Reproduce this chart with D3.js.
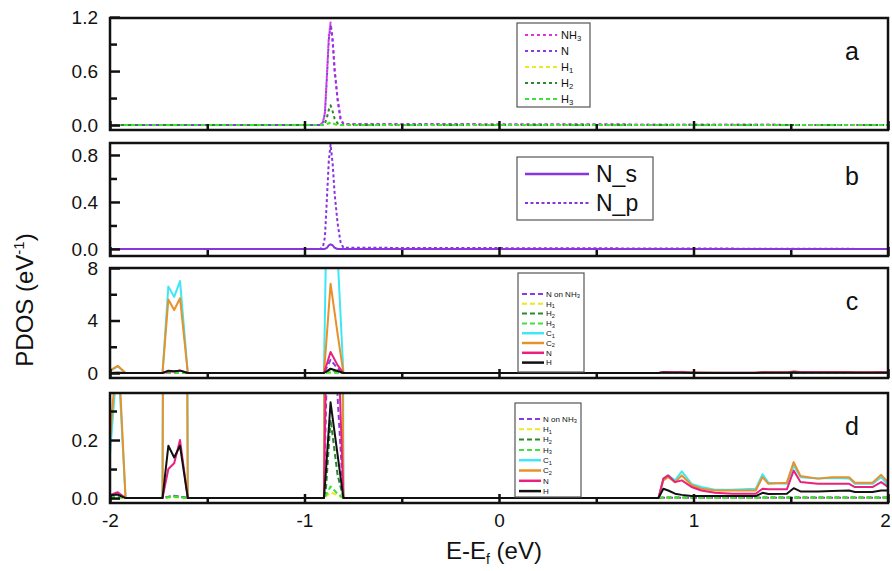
<!DOCTYPE html>
<html>
<head>
<meta charset="utf-8">
<script src="https://cdn.jsdelivr.net/npm/d3@7/dist/d3.min.js"></script>
<style>
body{margin:0;background:#fff;}
svg text{font-family:"Liberation Sans",Arial,sans-serif;fill:#111;}
</style>
</head>
<body>
<div id="pdos-chart"></div>
<script>
// energy grid (eV) for panels a and b
const energyAB = [-2, -0.92, -0.905, -0.895, -0.885, -0.875, -0.866, -0.855, -0.845, -0.83, -0.815, -0.80, 2];
// panel a
const aNH3 = [0, 0, 0.03, 0.14, 0.55, 0.98, 1.14, 0.95, 0.62, 0.30, 0.08, 0.01, 0];
const aN   = [0, 0, 0.03, 0.13, 0.52, 0.95, 1.12, 0.92, 0.60, 0.28, 0.07, 0.01, 0];
const aH1  = [0, 0, 0, 0, 0.01, 0.02, 0.02, 0.02, 0.01, 0, 0, 0, 0];
const aH2  = [0, 0, 0, 0.02, 0.08, 0.17, 0.22, 0.15, 0.07, 0.02, 0, 0, 0];
const aH3  = [0, 0, 0, 0, 0.01, 0.02, 0.03, 0.02, 0.01, 0, 0, 0, 0];
// panel b
const bNs = [0, 0, 0, 0, 0.01, 0.03, 0.04, 0.03, 0.01, 0, 0, 0, 0];
const bNp = [0, 0, 0.02, 0.10, 0.42, 0.75, 0.89, 0.72, 0.47, 0.22, 0.06, 0.01, 0];

// energy grid for panels c and d (d is a zoom of c)
const energyCD = [-2.00, -1.96, -1.92, -1.73, -1.70, -1.67, -1.64, -1.60, -0.90, -0.89, -0.866, -0.83, -0.80,
  0.82, 0.845, 0.87, 0.905, 0.94, 0.99, 1.04, 1.11, 1.20, 1.32, 1.355, 1.385, 1.48, 1.515, 1.55, 1.64, 1.71, 1.80, 1.83, 1.92, 1.965, 2.00];
const cdNonNH3 = [0, 0.003, 0, 0, 0.005, 0.008, 0.005, 0, 0, 0.30, 1.0, 0.35, 0,
  0, 0.001, 0.001, 0.001, 0.001, 0.001, 0.001, 0.001, 0.001, 0.001, 0.001, 0.001, 0.001, 0.001, 0.001, 0.001, 0.001, 0.001, 0.001, 0.001, 0.001, 0.001];
const cdH1 = [0, 0, 0, 0, 0.002, 0.003, 0.002, 0, 0, 0.005, 0.02, 0.01, 0,
  0, 0.001, 0.001, 0.001, 0.001, 0.001, 0.001, 0.001, 0.001, 0.001, 0.001, 0.001, 0.001, 0.001, 0.001, 0.001, 0.001, 0.001, 0.001, 0.001, 0.001, 0.001];
const cdH2 = [0.004, 0.008, 0, 0, 0.004, 0.006, 0.004, 0, 0, 0.03, 0.27, 0.08, 0,
  0, 0.002, 0.002, 0.002, 0.002, 0.002, 0.002, 0.002, 0.002, 0.002, 0.002, 0.002, 0.002, 0.002, 0.002, 0.002, 0.002, 0.002, 0.002, 0.002, 0.002, 0.002];
const cdH3 = [0.002, 0.004, 0, 0, 0.003, 0.005, 0.003, 0, 0, 0.01, 0.04, 0.015, 0,
  0, 0.002, 0.002, 0.002, 0.002, 0.002, 0.002, 0.002, 0.002, 0.002, 0.002, 0.002, 0.002, 0.002, 0.002, 0.002, 0.002, 0.002, 0.002, 0.002, 0.002, 0.002];
const cdC1 = [0.15, 0.50, 0, 0, 6.6, 5.8, 7.0, 0, 0, 9.0, 14.0, 9.0, 0,
  0, 0.067, 0.078, 0.061, 0.092, 0.049, 0.038, 0.029, 0.029, 0.032, 0.082, 0.053, 0.049, 0.113, 0.072, 0.067, 0.069, 0.067, 0.049, 0.049, 0.072, 0.044];
const cdC2 = [0.20, 0.55, 0, 0, 5.6, 4.8, 5.7, 0, 0, 1.9, 6.8, 3.0, 0,
  0, 0.061, 0.072, 0.055, 0.078, 0.044, 0.032, 0.026, 0.026, 0.026, 0.072, 0.049, 0.053, 0.124, 0.076, 0.067, 0.072, 0.072, 0.053, 0.053, 0.080, 0.055];
const cdN = [0.01, 0.02, 0, 0, 0.10, 0.12, 0.20, 0, 0, 0.45, 1.6, 0.6, 0,
  0, 0.067, 0.078, 0.055, 0.061, 0.038, 0.026, 0.018, 0.015, 0.015, 0.032, 0.030, 0.030, 0.095, 0.055, 0.049, 0.049, 0.049, 0.038, 0.038, 0.055, 0.038];
const cdH = [0.01, 0.012, 0, 0, 0.18, 0.14, 0.18, 0, 0, 0.09, 0.33, 0.15, 0,
  0, 0.032, 0.026, 0.015, 0.011, 0.007, 0.007, 0.007, 0.007, 0.007, 0.018, 0.014, 0.015, 0.034, 0.023, 0.023, 0.024, 0.026, 0.021, 0.021, 0.026, 0.026];

const xMajor = [-2, -1, 0, 1, 2];
const xMinor = [-1.5, -0.5, 0.5, 1.5];

const width = 892, height = 571;
const svg = d3.select("#pdos-chart").append("svg")
  .attr("width", width).attr("height", height);

const x = d3.scaleLinear().domain([-2, 2]).range([110, 888]);

const C = {nh3:"#e030e0", n:"#8a3be0", h1:"#eaea1e", h2:"#2a8a2a", h3:"#3ee03e", c1:"#40e6f2", c2:"#e8902a", np:"#e8207f", h:"#111"};

const seriesA = [
  {label:["NH","3"], v:aNH3, color:C.nh3, dash:"3,3"},
  {label:["N",""], v:aN, color:C.n, dash:"3,3", off:3},
  {label:["H","1"], v:aH1, color:C.h1, dash:"4,3"},
  {label:["H","2"], v:aH2, color:C.h2, dash:"3,3"},
  {label:["H","3"], v:aH3, color:C.h3, dash:"4,3"}
];
const seriesB = [
  {label:["N_s",""], v:bNs, color:"#8a34e0", dash:null},
  {label:["N_p",""], v:bNp, color:"#8a34e0", dash:"3,2.5"}
];
const seriesCD = [
  {label:["N on NH","3"], v:cdNonNH3, color:C.n, dash:"5,3"},
  {label:["H","1"], v:cdH1, color:C.h1, dash:"5,3"},
  {label:["H","2"], v:cdH2, color:C.h2, dash:"5,3"},
  {label:["H","3"], v:cdH3, color:C.h3, dash:"5,3"},
  {label:["C","1"], v:cdC1, color:C.c1, dash:null},
  {label:["C","2"], v:cdC2, color:C.c2, dash:null},
  {label:["N",""], v:cdN, color:C.np, dash:null},
  {label:["H",""], v:cdH, color:C.h, dash:null}
];

const panels = [
  {id:"a", top:18, bottom:130, dom:[-0.055, 1.19], major:[0, 0.6, 1.2], minor:[0.3, 0.9], fmt:d3.format(".1f"),
   e:energyAB, series:seriesA,
   legend:{x:517, y:23, w:73, h:84, row0:35, step:16, l0:525, l1:557, tx:561, fs:11, sw:2}},
  {id:"b", top:143, bottom:256, dom:[-0.06, 0.902], major:[0, 0.4, 0.8], minor:[0.2, 0.6], fmt:d3.format(".1f"),
   e:energyAB, series:seriesB,
   legend:{x:517, y:157, w:136, h:63, row0:174, step:29, l0:525, l1:589, tx:596, fs:23, sw:2}},
  {id:"c", top:268, bottom:378, dom:[-0.38, 8], major:[0, 4, 8], minor:[2, 6], fmt:d3.format("d"),
   e:energyCD, series:seriesCD,
   legend:{x:518, y:273, w:66, h:99, row0:294, step:9.8, l0:522, l1:544, tx:546, fs:8, sw:2}},
  {id:"d", top:393, bottom:503, dom:[-0.017, 0.362], major:[0, 0.2], minor:[0.1, 0.3], fmt:d3.format(".1f"),
   e:energyCD, series:seriesCD,
   legend:{x:515, y:403, w:66, h:94, row0:419, step:10.3, l0:519, l1:541, tx:543, fs:8, sw:2}}
];

panels.forEach(function(p, pi){
  let y = d3.scaleLinear().domain(p.dom).range([p.bottom, p.top]);
  let g = svg.append("g").attr("id", "panel-" + p.id);

  g.append("clipPath").attr("id", "clip-" + p.id)
    .append("rect").attr("x", x(-2)).attr("y", p.top)
    .attr("width", x(2) - x(-2)).attr("height", p.bottom - p.top);

  let line = d3.line().x((d, i) => x(p.e[i])).y(d => y(d));
  let lines = g.append("g").attr("clip-path", "url(#clip-" + p.id + ")");
  p.series.forEach(function(s){
    lines.append("path").datum(s.v)
      .attr("d", line)
      .attr("fill", "none")
      .attr("stroke", s.color)
      .attr("stroke-width", 2)
      .attr("stroke-dasharray", s.dash)
      .attr("stroke-dashoffset", s.off || 0)
      .attr("stroke-linejoin", "round");
  });

  // y axis ticks point inward
  let yMaj = g.append("g").attr("transform", "translate(" + x(-2) + ",0)")
    .call(d3.axisLeft(y).tickValues(p.major).tickSize(-10).tickPadding(12).tickFormat(p.fmt));
  let yMin = g.append("g").attr("transform", "translate(" + x(-2) + ",0)")
    .call(d3.axisLeft(y).tickValues(p.minor).tickSize(-7).tickFormat(""));
  let xMaj = g.append("g").attr("transform", "translate(0," + p.bottom + ")")
    .call(d3.axisBottom(x).tickValues(xMajor).tickSize(-9).tickPadding(11)
      .tickFormat(pi === 3 ? (d => String(d)) : ""));
  let xMin = g.append("g").attr("transform", "translate(0," + p.bottom + ")")
    .call(d3.axisBottom(x).tickValues(xMinor).tickSize(-6).tickFormat(""));
  [yMaj, yMin, xMaj, xMin].forEach(function(a){
    a.select(".domain").remove();
    a.selectAll(".tick line").attr("stroke", "#111").attr("stroke-width", 2.5);
    a.selectAll(".tick text").attr("font-size", 19).attr("fill", "#111")
      .attr("font-family", "'Liberation Sans', Arial, sans-serif");
  });
  // last x label sits right at the page edge
  xMaj.selectAll(".tick text").filter(d => d === 2).attr("x", -3);

  g.append("rect").attr("x", x(-2)).attr("y", p.top)
    .attr("width", x(2) - x(-2)).attr("height", p.bottom - p.top)
    .attr("fill", "none").attr("stroke", "#111").attr("stroke-width", 2.5);

  g.append("text").attr("x", 852).attr("y", p.top + 42)
    .attr("text-anchor", "middle").attr("font-size", 25).text(p.id);

  // legend
  let L = p.legend;
  let lg = g.append("g");
  lg.append("rect").attr("x", L.x).attr("y", L.y).attr("width", L.w).attr("height", L.h)
    .attr("fill", "#fff").attr("stroke", "#555").attr("stroke-width", 1.2);
  p.series.forEach(function(s, i){
    let ry = L.row0 + i * L.step;
    lg.append("line").attr("x1", L.l0).attr("x2", L.l1).attr("y1", ry).attr("y2", ry)
      .attr("stroke", s.color).attr("stroke-width", s.dash ? L.sw : L.sw + 0.5)
      .attr("stroke-dasharray", s.dash);
    let t = lg.append("text").attr("x", L.tx).attr("y", ry + L.fs * 0.36)
      .attr("font-size", L.fs);
    t.append("tspan").text(s.label[0]);
    if (s.label[1]) {
      t.append("tspan").attr("font-size", L.fs * 0.7).attr("dy", L.fs * 0.2).text(s.label[1]);
    }
  });
});

// axis titles
let yt = svg.append("text").attr("transform", "translate(33,300) rotate(-90)")
  .attr("text-anchor", "middle").attr("font-size", 24);
yt.append("tspan").text("PDOS (eV");
yt.append("tspan").attr("font-size", 15).attr("dy", -9).text("-1");
yt.append("tspan").attr("dy", 9).text(")");

let xt = svg.append("text").attr("x", 494).attr("y", 559)
  .attr("text-anchor", "middle").attr("font-size", 24);
xt.append("tspan").text("E-E");
xt.append("tspan").attr("font-size", 14).attr("dy", 5).text("f");
xt.append("tspan").attr("dy", -5).text(" (eV)");
</script>
</body>
</html>
